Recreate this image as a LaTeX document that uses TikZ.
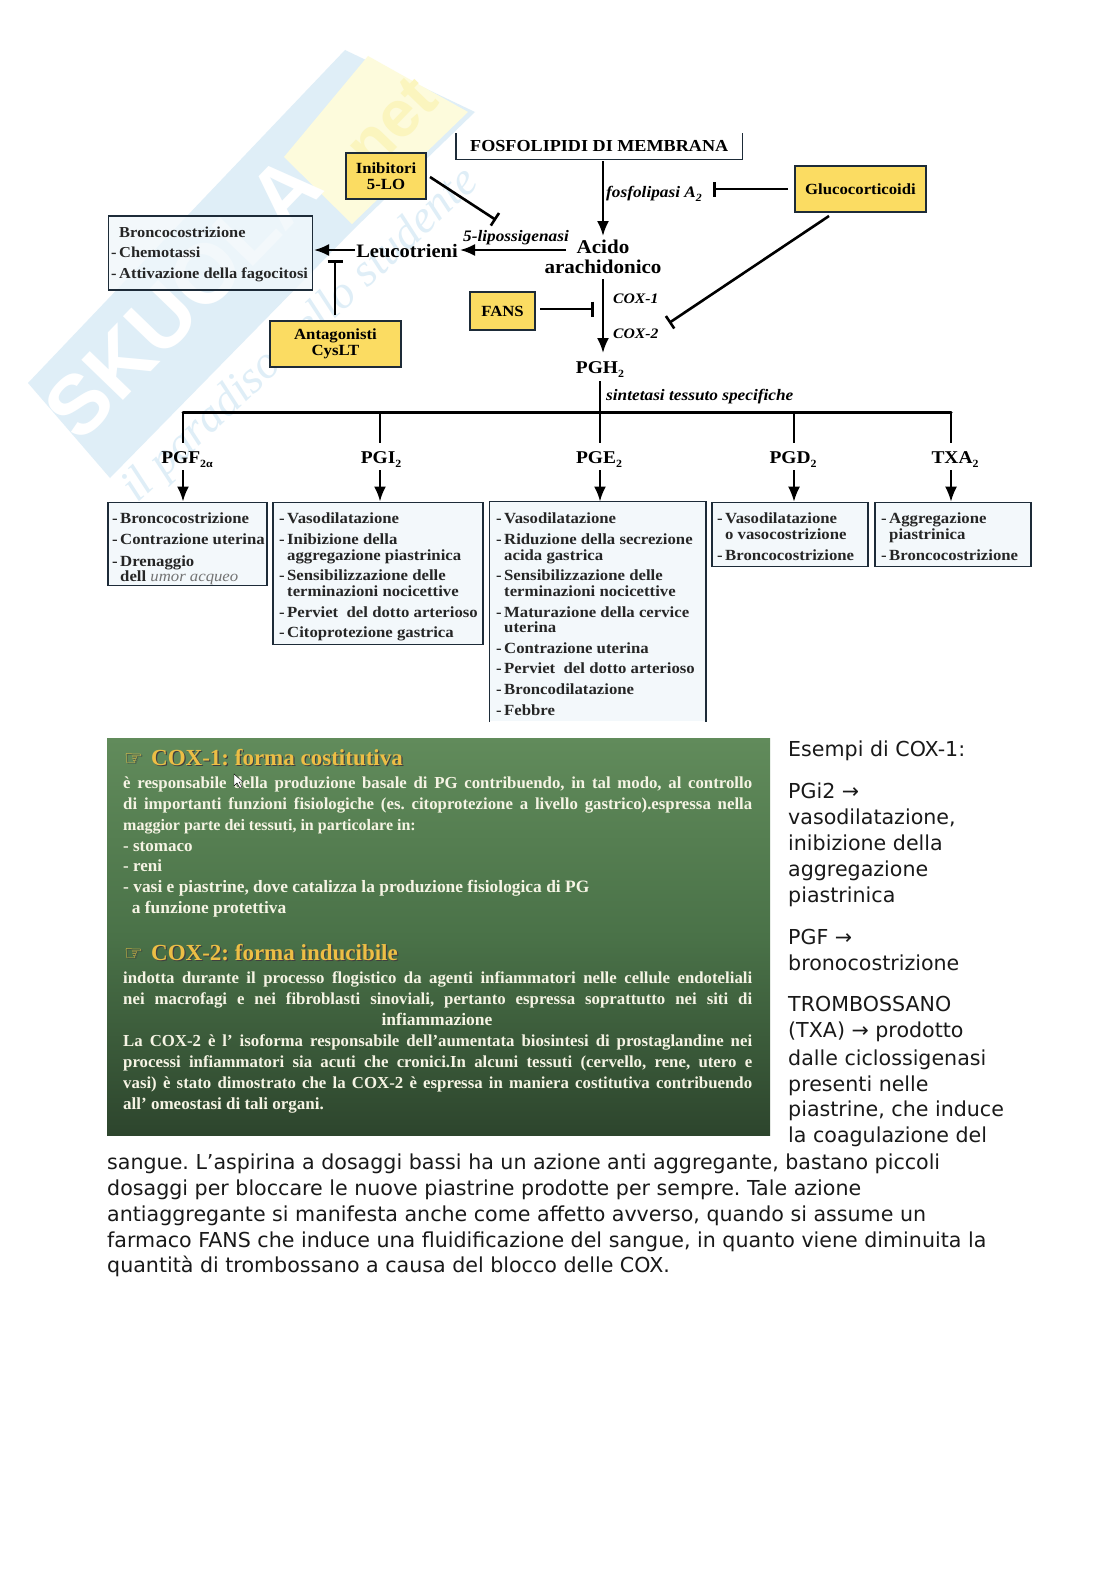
\documentclass[tikz,border=0pt]{standalone}
\usepackage{fontspec}
\usepackage{tikz}
\usetikzlibrary{positioning,arrows.meta,shapes.geometric,calc}
\setmainfont[FakeStretch=1.08]{Liberation Serif}
\newfontfamily\pagefont{DejaVu Sans}
\newfontfamily\markfont{Liberation Sans}
\newfontfamily\slidefont{Liberation Serif}
\newcommand{\dashitem}{\makebox[8pt][l]{-}}
\newcommand{\lowsub}[1]{\raisebox{-4pt}{\fontsize{11}{11}\selectfont #1}}
\newcommand{\goldtext}[1]{\rlap{\color{black!75}\hspace{1.2pt}\raisebox{-1.2pt}{#1}}#1}
\newcommand{\slidehand}{\makebox[27pt][l]{\pagefont\fontsize{21}{21}\selectfont\goldtext{☞}}}

\definecolor{markblue}{HTML}{DFEEF7}
\definecolor{markyellow}{HTML}{FDFBDC}
\definecolor{markletter}{HTML}{FBF5BE}
\definecolor{boxblue}{HTML}{F0F7FB}
\definecolor{boxline}{HTML}{1D2B38}
\definecolor{drugyellow}{HTML}{FBDC62}
\definecolor{slidegold}{HTML}{EDBE45}
\definecolor{slidetext}{HTML}{F6F4E4}
\definecolor{slidetop}{HTML}{618B5B}
\definecolor{slidemid}{HTML}{4A7248}
\definecolor{slidebottom}{HTML}{2D452D}

\tikzset{
  infobox/.style={draw=boxline, line width=1.6pt, fill=boxblue, fill opacity=0.8, anchor=north west, inner sep=0pt},
  drugbox/.style={draw=boxline, line width=1.4pt, fill=drugyellow, align=center, inner sep=0pt, font=\fontsize{15.5}{16}\selectfont\bfseries},
  boxitem/.style={anchor=base west, inner sep=0pt, text=black!85, font=\fontsize{15.5}{18}\selectfont\bfseries},
  mediator/.style={inner sep=0pt, font=\fontsize{18}{20}\selectfont\bfseries},
  enzyme/.style={inner sep=0pt, anchor=base west, font=\fontsize{16}{18}\selectfont\bfseries\itshape},
  flow/.style={line width=2.2pt, -{Latex[length=15pt,width=12pt]}},
  stopline/.style={line width=2.6pt, -{Bar[width=15pt,line width=2.6pt]}},
  slideline/.style={anchor=base west, inner sep=0pt, text=slidetext, font=\slidefont\fontsize{16.8}{18}\selectfont\bfseries},
  slidehead/.style={anchor=base west, inner sep=0pt, text=slidegold, font=\slidefont\fontsize{23}{26}\selectfont\bfseries},
  pageline/.style={anchor=base west, inner sep=0pt, text=black!90, font=\pagefont\fontsize{20.6}{24}\selectfont},
}

\begin{document}
\frenchspacing
\begin{tikzpicture}[x=1pt,y=-1pt]
  \useasboundingbox (0,0) rectangle (1116,1579);
  \fill[white] (0,0) rectangle (1116,1579);

  % watermark
  \fill[markblue] (28,383) -- (345,50) -- (475,112) -- (355,228) -- (110,478) -- cycle;
  \fill[markyellow] (284,157) -- (368,56) -- (468,112) -- (352,224) -- cycle;
  \node[rotate=46, text=white, font=\markfont\fontsize{84}{84}\selectfont\bfseries] (markskuola) at (183,297) {SKUOLA};
  \node[rotate=46, text=markletter, font=\markfont\fontsize{66}{66}\selectfont\bfseries] (marknet) at (385,130) {.net};
  \node[rotate=43, text=markblue, font=\slidefont\fontsize{46}{46}\selectfont\itshape] (markmotto) at (301,336) {il paradiso dello studente};

  % upper part of the pathway
  \node[minimum width=286pt, minimum height=26pt, inner sep=0pt, anchor=north west, font=\fontsize{16.8}{20}\selectfont\bfseries] (fosfo) at (456,133) {FOSFOLIPIDI DI MEMBRANA};
  \draw[boxline, line width=1.2pt] (fosfo.north west) -- (fosfo.south west) -- (fosfo.south east) -- (fosfo.north east);

  \node[drugbox, minimum width=80pt, minimum height=46pt] (inibitori) at (386,176) {Inibitori\\5-LO};
  \node[drugbox, minimum width=131pt, minimum height=46pt] (gluco) at (860.5,189) {Glucocorticoidi};
  \node[drugbox, minimum width=65pt, minimum height=38pt] (fans) at (502.5,311) {FANS};
  \node[drugbox, minimum width=131pt, minimum height=46pt] (antagonisti) at (335.5,344) {Antagonisti\\CysLT};

  \node[mediator, align=center, font=\fontsize{19.5}{20}\selectfont\bfseries] (acido) at (603,257) {Acido\\arachidonico};
  \node[mediator, font=\fontsize{19}{20}\selectfont\bfseries] (leuco) at (407,251) {Leucotrieni};
  \node[mediator] (pgh) at (600,370) {PGH\lowsub{2}};

  \node[infobox, minimum width=204pt, minimum height=74pt] (boxleuco) at (107.5,215) {};
  \foreach \y/\t [count=\i] in {237/{\hspace{8pt}Broncocostrizione},257/{\dashitem Chemotassi},278/{\dashitem Attivazione della fagocitosi}}
    \node[boxitem, font=\fontsize{15.2}{18}\selectfont\bfseries] (leucoline\i) at (111,\y) {\t};

  \node[enzyme] (fosfolipasi) at (606,197) {fosfolipasi A\lowsub{2}};
  \node[enzyme] (lipo) at (463,241) {5-lipossigenasi};
  \node[enzyme, font=\fontsize{14.5}{17}\selectfont\bfseries\itshape] (coxone) at (613,303) {COX-1};
  \node[enzyme, font=\fontsize{14.5}{17}\selectfont\bfseries\itshape] (coxtwo) at (613,338) {COX-2};
  \node[enzyme] (sintetasi) at (606,400) {sintetasi tessuto specifiche};

  \coordinate (fosfoout) at (603,161);
  \coordinate (acidoin) at (603,236);
  \coordinate (acidoout) at (603,279);
  \coordinate (pghin) at (603,353);
  \coordinate (glucoout) at (788,189);
  \coordinate (glucostop) at (713,189);
  \coordinate (lipostop) at (496,220);
  \coordinate (inibstart) at (430,177);
  \coordinate (leftstart) at (566,250);
  \coordinate (leftend) at (460,250);
  \coordinate (leucostart) at (355,250);
  \coordinate (leucoend) at (314,250);
  \coordinate (antastop) at (335,260);
  \coordinate (antastart) at (335,315);
  \coordinate (fansout) at (540,309);
  \coordinate (fansstop) at (594,309);
  \coordinate (glucostart) at (829,216);
  \coordinate (coxstop) at (669,323);

  \draw[flow] (fosfoout) -- (acidoin);
  \draw[flow] (acidoout) -- (pghin);
  \draw[flow] (leftstart) -- (leftend);
  \draw[flow] (leucostart) -- (leucoend);
  \draw[stopline] (glucoout) -- (glucostop);
  \draw[stopline] (inibstart) -- (lipostop);
  \draw[stopline] (antastart) -- (antastop);
  \draw[stopline] (fansout) -- (fansstop);
  \draw[stopline] (glucostart) -- (coxstop);

  % branches
  \coordinate (pghout) at (600,381);
  \coordinate (busmid) at (600,412);
  \coordinate (busleft) at (183,412);
  \coordinate (busright) at (951,412);
  \draw[line width=2.2pt] (pghout) -- (busmid);
  \draw[line width=3pt, line cap=round] (busleft) -- (busright);

  \foreach \n/\x/\lx/\w/\lab in {pgf/183/187/2.6/{PGF\lowsub{2α}},pgi/380/381/2.6/{PGI\lowsub{2}},pge/600/599/2.6/{PGE\lowsub{2}},pgd/794/793/1.3/{PGD\lowsub{2}},txa/951/955/1.3/{TXA\lowsub{2}}} {
    \draw[line width=\w pt] (\x,412) -- (\x,443);
    \node[mediator] (\n) at (\lx,460) {\lab};
  }

  \node[infobox, minimum width=159pt, minimum height=83pt] (boxpgf) at (107,501.5) {};
  \node[infobox, minimum width=210pt, minimum height=142pt] (boxpgi) at (272,501.5) {};
  \node[infobox, draw=none, minimum width=215pt, minimum height=219pt] (boxpge) at (489.5,501.5) {};
  \draw[boxline, line width=1.6pt] (boxpge.south west) -- (boxpge.north west) -- (boxpge.north east) -- (boxpge.south east);
  \node[infobox, minimum width=156pt, minimum height=64pt] (boxpgd) at (711,501.5) {};
  \node[infobox, minimum width=156pt, minimum height=64pt] (boxtxa) at (874,501.5) {};

  \foreach \x/\w/\target in {183/2.2/boxpgf,380/2.2/boxpgi,600/2.2/boxpge,794/1.3/boxpgd,951/1.3/boxtxa} {
    \coordinate (start\target) at (\x,470);
    \draw[line width=\w pt, -{Latex[length=15pt,width=12pt]}] (start\target) -- (start\target |- \target.north);
  }

  \foreach \y/\t [count=\i] in {523/{\dashitem Broncocostrizione},544/{\dashitem Contrazione uterina},566/{\dashitem Drenaggio},581/{\hspace{8pt}dell {\mdseries\itshape\color{black!55}umor acqueo}}}
    \node[boxitem] (pgfline\i) at (112,\y) {\t};
  \foreach \y/\t [count=\i] in {523/{\dashitem Vasodilatazione},544/{\dashitem Inibizione della},560/{\hspace{8pt}aggregazione piastrinica},580/{\dashitem Sensibilizzazione delle},596/{\hspace{8pt}terminazioni nocicettive},617/{\dashitem Perviet\ \ del dotto arterioso},637/{\dashitem Citoprotezione gastrica}}
    \node[boxitem] (pgiline\i) at (279,\y) {\t};
  \foreach \y/\t [count=\i] in {523/{\dashitem Vasodilatazione},544/{\dashitem Riduzione della secrezione},560/{\hspace{8pt}acida gastrica},580/{\dashitem Sensibilizzazione delle},596/{\hspace{8pt}terminazioni nocicettive},617/{\dashitem Maturazione della cervice},632/{\hspace{8pt}uterina},653/{\dashitem Contrazione uterina},673/{\dashitem Perviet\ \ del dotto arterioso},694/{\dashitem Broncodilatazione},715/{\dashitem Febbre}}
    \node[boxitem] (pgeline\i) at (496,\y) {\t};
  \foreach \y/\t [count=\i] in {523/{\dashitem Vasodilatazione},539/{\hspace{8pt}o vasocostrizione},560/{\dashitem Broncocostrizione}}
    \node[boxitem] (pgdline\i) at (717,\y) {\t};
  \foreach \y/\t [count=\i] in {523/{\dashitem Aggregazione},539/{\hspace{8pt}piastrinica},560/{\dashitem Broncocostrizione}}
    \node[boxitem] (txaline\i) at (881,\y) {\t};

  % slide
  \node[anchor=north west, inner sep=0pt, minimum width=663pt, minimum height=397pt, top color=slidetop, bottom color=slidebottom, middle color=slidemid] (slide) at (107,738) {};

  \node[slidehead] (headone) at (124,765) {\slidehand\goldtext{COX-1: forma costitutiva}};
  \node[slidehead] (headtwo) at (124,960) {\slidehand\goldtext{COX-2: forma inducibile}};
  \foreach \y/\t [count=\i] in {788/{è responsabile della produzione basale di PG contribuendo, in tal modo, al controllo},809/{di importanti funzioni fisiologiche (es. citoprotezione a livello gastrico).espressa nella},983/{indotta durante il processo flogistico da agenti infiammatori nelle cellule endoteliali},1004/{nei macrofagi e nei fibroblasti sinoviali, pertanto espressa soprattutto nei siti di},1046/{La COX-2 è l’ isoforma responsabile dell’aumentata biosintesi di prostaglandine nei},1067/{processi infiammatori sia acuti che cronici.In alcuni tessuti (cervello, rene, utero e},1088/{vasi) è stato dimostrato che la COX-2 è espressa in maniera costitutiva contribuendo}}
    \node[slideline] (slidefull\i) at (123,\y) {\makebox[629pt][s]{\t}};
  \foreach \y/\s/\t [count=\i] in {830/16/{maggior parte dei tessuti, in particolare in:},851/17/{- stomaco},871/17/{- reni},892/17.4/{- vasi e piastrine, dove catalizza la produzione fisiologica di PG},913/17.4/{\ \ a funzione protettiva},1109/17/{all’ omeostasi di tali organi.}}
    \node[slideline, font=\slidefont\fontsize{\s}{18}\selectfont\bfseries] (slidepart\i) at (123,\y) {\t};
  \node[slideline, anchor=base, font=\slidefont\fontsize{17.5}{18}\selectfont\bfseries] (slidecentre) at (437,1025) {infiammazione};
  \fill[white, draw=black, line width=0.4pt] (234,774) -- (234,786) -- (237,783) -- (240,788) -- (242,787) -- (239,782) -- (243,782) -- cycle;

  % page text
  \foreach \y/\t [count=\i] in {756/{Esempi di COX-1:},798/{PGi2 →},824/{vasodilatazione,},850/{inibizione della},876/{aggregazione},902/{piastrinica},944/{PGF →},970/{bronocostrizione},1011/{TROMBOSSANO},1037/{(TXA) → prodotto},1065/{dalle ciclossigenasi},1091/{presenti nelle},1116/{piastrine, che induce},1142/{la coagulazione del}}
    \node[pageline] (sideline\i) at (788,\y) {\t};
  \foreach \y/\t [count=\i] in {1169/{sangue. L’aspirina a dosaggi bassi ha un azione anti aggregante, bastano piccoli},1195/{dosaggi per bloccare le nuove piastrine prodotte per sempre. Tale azione},1221/{antiaggregante si manifesta anche come affetto avverso, quando si assume un},1247/{farmaco FANS che induce una fluidificazione del sangue, in quanto viene diminuita la},1272/{quantità di trombossano a causa del blocco delle COX.}}
    \node[pageline] (bodyline\i) at (107,\y) {\t};
\end{tikzpicture}
\end{document}
